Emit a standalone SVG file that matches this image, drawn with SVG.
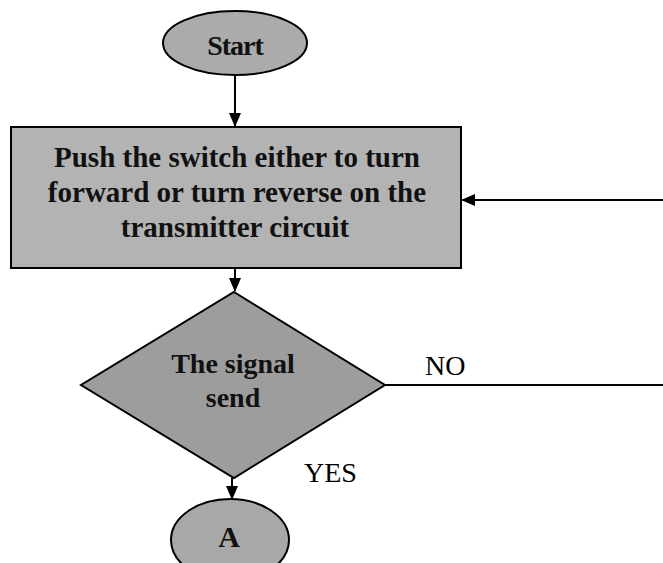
<svg xmlns="http://www.w3.org/2000/svg" width="663" height="563" viewBox="0 0 663 563">
<style>
.shape{stroke:#000;stroke-width:2}
.lbl{font-family:"Liberation Serif","Times New Roman",serif;font-weight:bold;fill:#111;text-anchor:middle}
.plain{font-family:"Liberation Serif","Times New Roman",serif;fill:#000;font-size:28px}
.conn{stroke:#000;stroke-width:2;fill:none}
</style>
<defs>
<marker id="arr" markerWidth="14" markerHeight="12" refX="13" refY="6" orient="auto" markerUnits="userSpaceOnUse">
<path d="M0,0 L14,6 L0,12 Z" fill="#000"/>
</marker>
</defs>
<rect width="663" height="563" fill="#fff"/>
<g id="connectors">
<line class="conn" x1="235" y1="75" x2="235" y2="126" marker-end="url(#arr)"/>
<line class="conn" x1="235" y1="268" x2="235" y2="291" marker-end="url(#arr)"/>
<line class="conn" x1="663" y1="200" x2="462" y2="200" marker-end="url(#arr)"/>
<line class="conn" x1="385" y1="385" x2="663" y2="385"/>
<line class="conn" x1="232" y1="478" x2="232" y2="499" marker-end="url(#arr)"/>
<text class="plain" x="425" y="375">NO</text>
<text class="plain" x="304" y="482">YES</text>
</g>
<g id="start">
<ellipse class="shape" cx="235" cy="43" rx="72" ry="32" fill="#ababab"/>
<text class="lbl" x="235" y="55" font-size="28" letter-spacing="-1">Start</text>
</g>
<g id="push">
<rect class="shape" x="11" y="127" width="450" height="141" fill="#b3b3b3"/>
<text class="lbl" font-size="29"><tspan x="237" y="167">Push the switch either to turn</tspan><tspan x="237" y="202">forward or turn reverse on the</tspan><tspan x="235" y="237">transmitter circuit</tspan></text>
</g>
<g id="decision">
<polygon class="shape" points="234,292 385,385 234,478 81,385" fill="#9d9d9d"/>
<text class="lbl" font-size="28"><tspan x="233" y="373">The signal</tspan><tspan x="233" y="407">send</tspan></text>
</g>
<g id="a">
<ellipse class="shape" cx="230" cy="540" rx="59" ry="41" fill="#a8a8a8"/>
<text class="lbl" x="229" y="547" font-size="30">A</text>
</g>
</svg>
